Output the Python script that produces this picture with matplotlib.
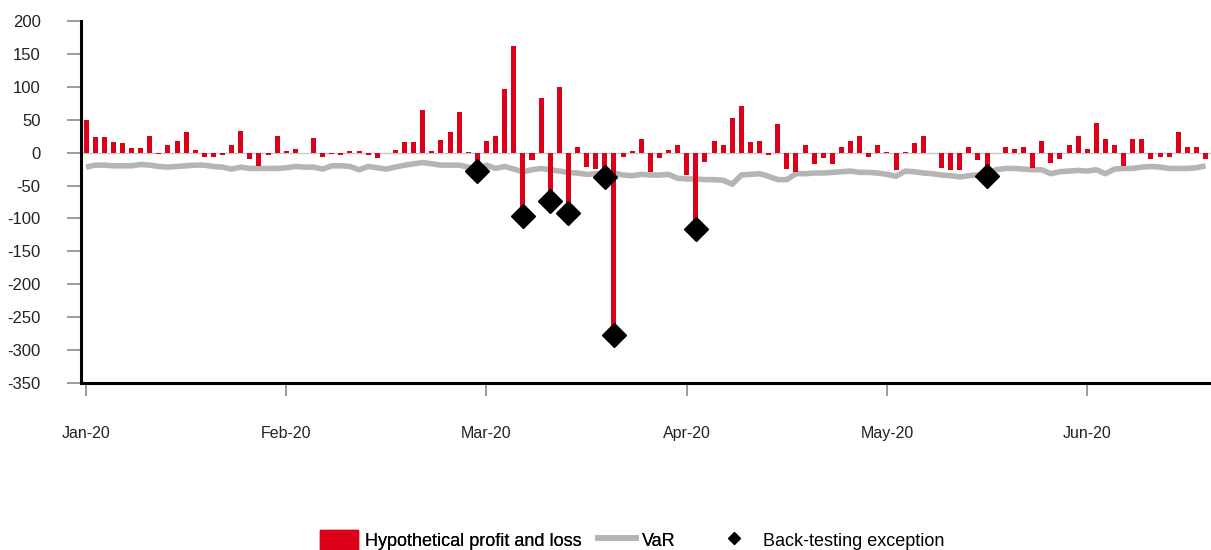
import matplotlib
matplotlib.use("Agg")
import matplotlib.pyplot as plt
from matplotlib.patches import Patch
from matplotlib.lines import Line2D

plt.rcParams['font.family'] = ['Liberation Sans', 'DejaVu Sans']
plt.rcParams['axes.unicode_minus'] = False

# daily hypothetical P&L (business days, Jan-20 .. Jun-20)
pnl = [49, 23, 23, 16, 14, 7, 7, 25, -2, 11, 17, 32, 4, -7, -7, -4, 11, 33, -9, -21,
       -4, 26, 3, 5, 0, 22, -7, -2, -3, 3, 2, -4, -8, -1, 4, 16, 16, 65, 2, 19,
       31, 61, 1, -28, 17, 25, 97, 162, -96, -11, 83, -73, 99, -92, 8, -22, -25, -37, -277, -6,
       2, 21, -29, -8, 4, 12, -34, -116, -14, 18, 11, 53, 71, 16, 18, -4, 43, -25, -29, 12,
       -18, -8, -18, 8, 18, 26, -6, 12, 1, -26, 1, 14, 25, 0, -24, -26, -26, 8, -11, -36,
       -1, 8, 6, 9, -24, 17, -16, -9, 11, 26, 6, 45, 21, 12, -21, 21, 21, -10, -6, -6,
       31, 8, 8, -10]

var = [-22, -19, -19, -20, -20, -20, -18, -19, -21, -22, -21, -20, -19, -19, -21, -22, -25, -22, -24, -24,
       -24, -24, -23, -21, -22, -22, -25, -20, -20, -21, -26, -21, -23, -25, -22, -19, -17, -15, -17, -19,
       -19, -19, -22, -26, -19, -24, -21, -25, -29, -26, -24, -26, -28, -30, -31, -33, -32, -33, -31, -34,
       -35, -33, -34, -34, -33, -39, -40, -40, -41, -41, -42, -48, -34, -33, -32, -36, -41, -41, -32, -32,
       -31, -31, -30, -29, -28, -30, -30, -31, -33, -36, -28, -29, -31, -32, -34, -35, -37, -35, -34, -31,
       -26, -24, -24, -25, -26, -26, -32, -29, -28, -27, -28, -26, -32, -25, -24, -24, -22, -21, -22, -24,
       -24, -24, -23, -20]

exceptions = [43, 48, 51, 53, 57, 58, 67, 99]

month_pos = [0, 22, 44, 66, 88, 110]
month_labels = ['Jan-20', 'Feb-20', 'Mar-20', 'Apr-20', 'May-20', 'Jun-20']

RED = '#dc0018'
GREY = '#b5b5b5'

days = list(range(len(pnl)))

fig = plt.figure(figsize=(12.11, 5.5), dpi=100)
ax = fig.add_axes([81 / 1211, (550 - 383) / 550, 1 - 81 / 1211, (383 - 21) / 550])

ax.axhline(0, color='#c8c8c8', lw=1, zorder=1)
ax.plot(days, var, color=GREY, lw=4, solid_joinstyle='round', solid_capstyle='butt', zorder=2)
ax.bar(days, pnl, width=0.55, color=RED, zorder=3)
ax.plot(exceptions, [pnl[i] for i in exceptions], 'D', ms=12, color='black',
        linestyle='none', zorder=4)

ax.set_xlim(-0.55, 123.6)
ax.set_ylim(-350, 200)
ax.set_yticks(range(-350, 201, 50))
ax.set_xticks(month_pos)
ax.set_xticklabels(month_labels)

for s in ['top', 'right']:
    ax.spines[s].set_visible(False)
for s in ['left', 'bottom']:
    ax.spines[s].set_linewidth(2.2)
    ax.spines[s].set_color('black')

ax.tick_params(axis='y', length=10, width=1.2, color='#8a8a8a', pad=19,
               labelsize=12, labelcolor='#222222')
ax.tick_params(axis='x', length=9, width=1.2, color='#8a8a8a', pad=22,
               labelsize=11.5, labelcolor='#222222')

# legend, three separate pieces as in the original layout
fs = 13
kw = dict(frameon=False, fontsize=fs, borderpad=0, borderaxespad=0, loc='center left',
          handleheight=1.3)
leg1 = fig.legend([Patch(color=RED)], ['Hypothetical profit and loss'],
                  bbox_to_anchor=(320 / 1211, 10 / 550), handlelength=2.1,
                  handletextpad=0.4, **kw)
fig.add_artist(leg1)
leg2 = fig.legend([Line2D([], [], color=GREY, lw=4)], ['VaR'],
                  bbox_to_anchor=(598 / 1211, 10 / 550), handlelength=2.1,
                  handletextpad=0.35, **kw)
fig.add_artist(leg2)
fig.legend([Line2D([], [], marker='D', ms=6, color='black', linestyle='none')],
           ['Back-testing exception'],
           bbox_to_anchor=(725 / 1211, 10 / 550), handlelength=1.0,
           handletextpad=1.1, **kw)

fig.savefig('out.png', dpi=100)
